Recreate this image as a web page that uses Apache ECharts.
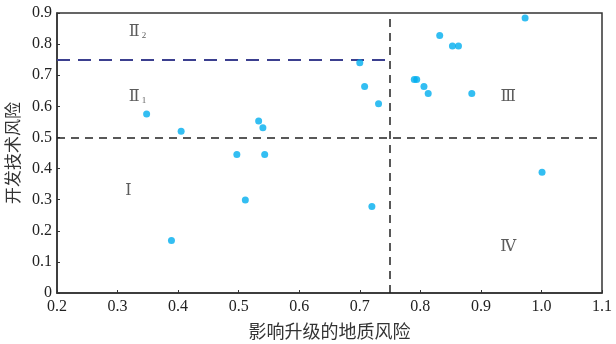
<!DOCTYPE html>
<html><head><meta charset="utf-8">
<script src="https://cdn.jsdelivr.net/npm/echarts@6/dist/echarts.min.js"></script>
<style>html,body{margin:0;padding:0;background:#fff}#c{width:616px;height:344px}</style>
</head><body><div id="c"></div>
<script>
// Data
const geoRisk  = [0.348,0.405,0.497,0.533,0.540,0.543,0.511,0.389,0.700,0.708,0.731,0.790,0.794,0.806,0.813,0.832,0.853,0.863,0.885,0.973,1.001,0.720];
const techRisk = [0.575,0.520,0.445,0.553,0.531,0.445,0.299,0.169,0.740,0.664,0.608,0.686,0.686,0.664,0.641,0.828,0.794,0.794,0.641,0.884,0.388,0.278];
const xTicks = [0.2,0.3,0.4,0.5,0.6,0.7,0.8,0.9,1.0,1.1];
const yTicks = [0,0.1,0.2,0.3,0.4,0.5,0.6,0.7,0.8,0.9];
const regionNames = ['Ⅰ','Ⅱ','Ⅱ','Ⅲ','Ⅳ'];
const regionSubs  = ['','2','1','',''];
const regionX = [0.318,0.333,0.333,0.945,0.945];
const regionY = [0.33,0.84,0.63,0.63,0.15];
const xSplit = 0.75, ySplit = 0.5, ySplit2 = 0.75;

const chart = echarts.init(document.getElementById('c'));
const serif = 'Liberation Serif, DejaVu Serif, serif';
const cjk = 'Noto Sans CJK SC';
const axisCommon = {
  axisLine:{show:true,lineStyle:{color:'#333',width:1.5}},
  axisTick:{show:true,inside:true,length:3,lineStyle:{color:'#333'}},
  splitLine:{show:false}
};
chart.setOption({
  animation:false,
  grid:{left:57,right:14,top:13,bottom:51,containLabel:false,outerBoundsMode:'none',show:true,borderColor:'#333',borderWidth:1.5},
  xAxis:Object.assign({type:'value',min:0.2,max:1.1,interval:0.1,
    name:'影响升级的地质风险',nameLocation:'middle',nameGap:29,
    nameTextStyle:{fontFamily:cjk,fontSize:18,color:'#333'},
    axisLabel:{fontFamily:serif,fontSize:16,color:'#222',margin:6,
      formatter:v=>{const t=xTicks.find(t=>Math.abs(t-v)<1e-6);return t===undefined?'':t.toFixed(1);}}
  },axisCommon),
  yAxis:Object.assign({type:'value',min:0,max:0.9,interval:0.1,
    name:'开发技术风险',nameLocation:'middle',nameGap:33,
    nameTextStyle:{fontFamily:cjk,fontSize:17,color:'#333'},
    axisLabel:{fontFamily:serif,fontSize:16,color:'#222',margin:5,
      formatter:v=>{const t=yTicks.find(t=>Math.abs(t-v)<1e-6);return t===undefined?'':(t===0?'0':t.toFixed(1));}}
  },axisCommon),
  series:[
    {type:'scatter',symbolSize:7,itemStyle:{color:'#00AEEF'},
     data:geoRisk.map((x,i)=>[x,techRisk[i]]),z:5,
     markLine:{silent:true,symbol:'none',label:{show:false},
       data:[
         [{coord:[0.2,ySplit],lineStyle:{color:'#222',type:[8,6],width:1.5}},{coord:[1.1,ySplit]}],
         [{coord:[xSplit,0],lineStyle:{color:'#222',type:[8,6],width:1.5}},{coord:[xSplit,0.9]}],
         [{coord:[0.2,ySplit2],lineStyle:{color:'#3b3f8f',type:[13,8],width:2}},{coord:[xSplit,ySplit2]}]
       ]}
    },
    {type:'scatter',symbolSize:0,silent:true,
     data:regionX.map((x,i)=>({value:[x,regionY[i]],name:regionNames[i],sub:regionSubs[i]})),
     label:{show:true,position:'inside',
       formatter:p=>'{n|'+regionNames[p.dataIndex]+'}'+(regionSubs[p.dataIndex]?'{s|'+regionSubs[p.dataIndex]+'}':''),
       rich:{n:{fontFamily:serif+', '+cjk,fontSize:16,color:'#333'},
             s:{fontFamily:serif,fontSize:9,color:'#333',verticalAlign:'bottom',padding:[8,0,0,2]}}}
    }
  ]
});
</script></body></html>
